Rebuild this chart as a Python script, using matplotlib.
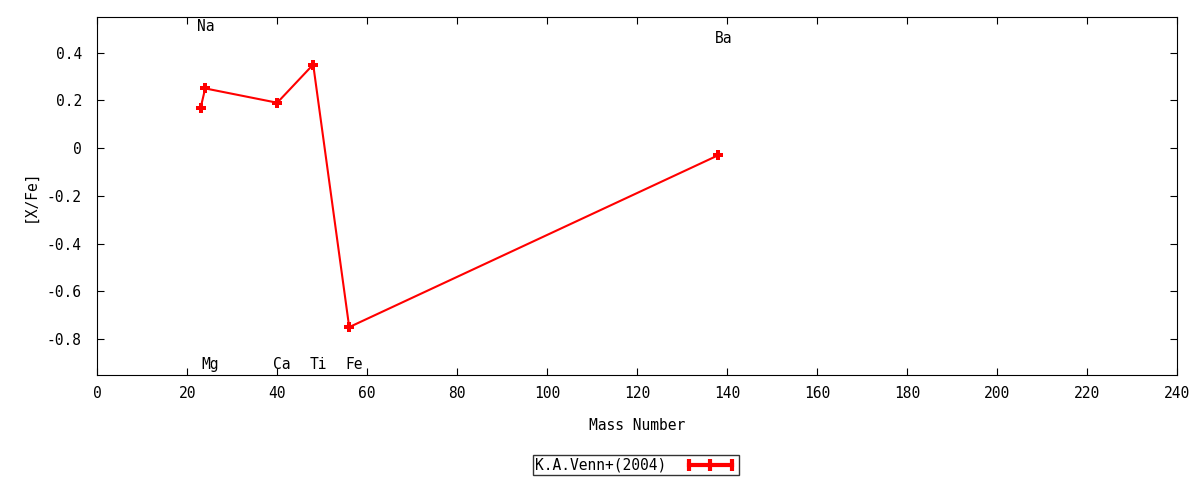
import matplotlib
matplotlib.use('Agg')
import matplotlib.pyplot as plt
from matplotlib.lines import Line2D

elements = ['Na', 'Mg', 'Ca', 'Ti', 'Fe', 'Ba']
mass = [23, 24, 40, 48, 56, 138]
xfe = [0.17, 0.25, 0.19, 0.35, -0.75, -0.03]
label_y = [0.51, -0.905, -0.905, -0.905, -0.905, 0.46]
series_name = 'K.A.Venn+(2004)'

plt.rcParams['font.family'] = ['DejaVu Sans Mono']
plt.rcParams['font.size'] = 10

fig = plt.figure(figsize=(12, 4.8), dpi=100)
ax = fig.add_axes([0.081, 0.219, 0.9, 0.746])

ax.plot(mass, xfe, color='red', lw=1.5, marker='P', ms=7, mew=0)
for el, m, ly in zip(elements, mass, label_y):
    ax.text(m + 1.1, ly, el, ha='center', va='center', fontsize=10.5)

ax.set_xlim(0, 240)
ax.set_ylim(-0.95, 0.55)
ax.set_xticks(range(0, 241, 20))
ax.set_yticks([-0.8, -0.6, -0.4, -0.2, 0, 0.2, 0.4])
ax.set_yticklabels(['-0.8', '-0.6', '-0.4', '-0.2', '0', '0.2', '0.4'])
ax.tick_params(direction='in', top=True, right=True, length=5, labelsize=10.5)
ax.tick_params(axis='x', pad=8)
ax.tick_params(axis='y', pad=11)
ax.set_xlabel('Mass Number', fontsize=10.5, labelpad=12)
ax.set_ylabel('[X/Fe]', fontsize=10.5, labelpad=7)

proxy = Line2D([], [], color='red', lw=3, marker='|', ms=9, mew=3)
leg = fig.legend([proxy], [series_name], loc='center', bbox_to_anchor=(0.53, 0.031),
                 frameon=True, fancybox=False, edgecolor='black', markerfirst=False,
                 numpoints=3, handlelength=3.6, borderpad=0.15, borderaxespad=0,
                 handletextpad=1.2, fontsize=10.5)
leg.get_frame().set_linewidth(1)

fig.savefig('out.png', dpi=100)
